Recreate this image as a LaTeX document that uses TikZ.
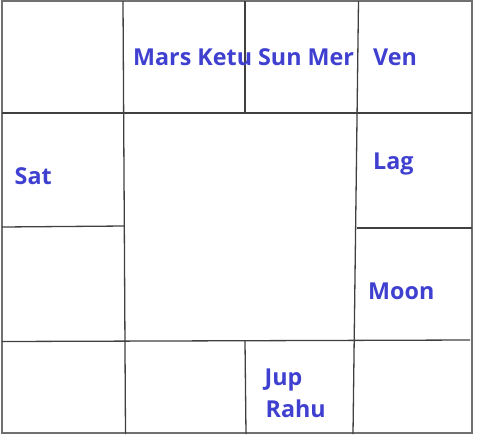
\documentclass[tikz,border=0pt]{standalone}
\usepackage{fontspec}
\setmainfont{Open Sans}
\usepackage{xcolor}
\usepackage{tikz}
\definecolor{planet}{RGB}{64,64,208}
\definecolor{chartline}{RGB}{64,64,64}
\definecolor{chartframe}{RGB}{112,112,112}

\begin{document}
\begin{tikzpicture}[x=1pt,y=-1pt]
	\useasboundingbox (0,0) rectangle (484,440);
	\tikzstyle{frame}=[draw=chartframe,line width=2.2pt]
	\tikzstyle{house}=[draw=chartline,line width=1.3pt]
	\draw[frame] (2,1) rectangle (472,433);
	\draw[house] (123,1)--(125.5,434);
	\draw[house] (358.5,1)--(353,434);
	\draw[house] (245,1)--(245,113);
	\draw[house] (245,341)--(246,434);
	\draw[house] (2,113)--(472,113);
	\draw[house] (2,227)--(124,226);
	\draw[house] (357,228)--(472,228);
	\draw[house] (2,341.5)--(470,340);
	\tikzstyle{every node}=[anchor=base west,inner sep=0pt,text=planet,font=\fontsize{23.3}{27}\selectfont\bfseries];
	\node (mars) at (133,65) {Mars Ketu Sun Mer};
	\node (ven) at (373,65) {Ven};
	\node (sat) at (14.5,184) {Sat};
	\node (lag) at (373,169) {Lag};
	\node (moon) at (368,299) {Moon};
	\node (jup) at (264.5,385.5) {Jup};
	\node (rahu) at (265.5,417.5) {Rahu};
\end{tikzpicture}
\end{document}
